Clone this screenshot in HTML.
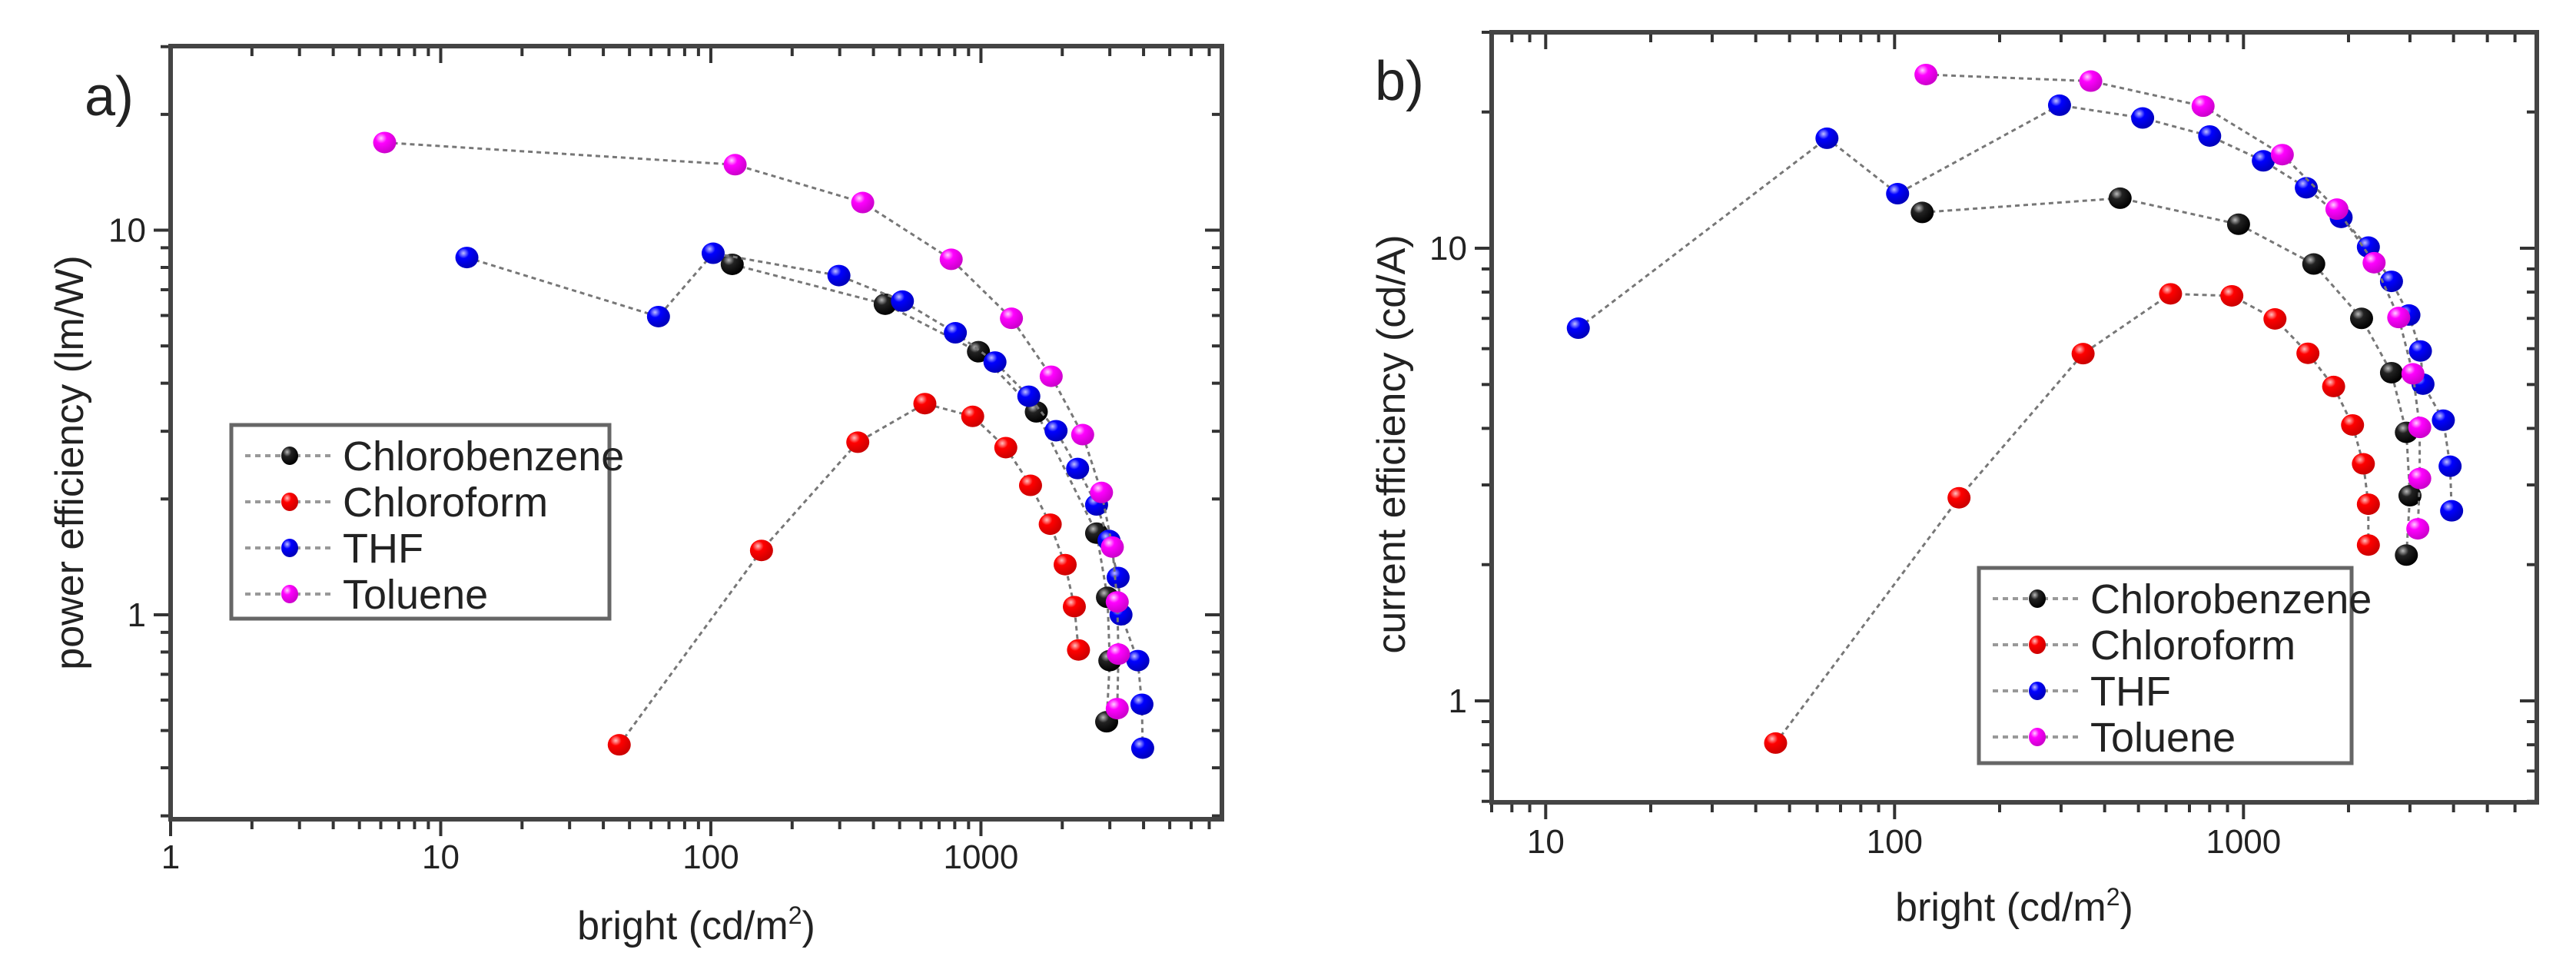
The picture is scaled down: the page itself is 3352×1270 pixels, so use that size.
<!DOCTYPE html>
<html><head><meta charset="utf-8">
<style>
html,body{margin:0;padding:0;background:#fff;}
svg{display:block;}
text{font-family:"Liberation Sans",sans-serif;fill:#222;}
</style></head>
<body>
<svg id="fig" width="3352" height="1270" viewBox="0 0 3352 1270" xmlns="http://www.w3.org/2000/svg">
<defs>
<radialGradient id="g-black" cx="0.35" cy="0.3" r="0.7"><stop offset="0" stop-color="#bbb"/><stop offset="0.35" stop-color="#222"/><stop offset="1" stop-color="#000"/></radialGradient>
<radialGradient id="g-red" cx="0.35" cy="0.3" r="0.7"><stop offset="0" stop-color="#ffc0c0"/><stop offset="0.35" stop-color="#f00"/><stop offset="1" stop-color="#c00"/></radialGradient>
<radialGradient id="g-blue" cx="0.35" cy="0.3" r="0.7"><stop offset="0" stop-color="#c0c0ff"/><stop offset="0.35" stop-color="#00f"/><stop offset="1" stop-color="#00b"/></radialGradient>
<radialGradient id="g-magenta" cx="0.35" cy="0.3" r="0.7"><stop offset="0" stop-color="#ffd0ff"/><stop offset="0.35" stop-color="#f0f"/><stop offset="1" stop-color="#c0c"/></radialGradient>
</defs>
</svg>
<script>
// ---------- Data: panel a (power efficiency, lm/W) ----------
const seriesNames = ["Chlorobenzene","Chloroform","THF","Toluene"];
const seriesColors = ["black","red","blue","magenta"];

const aChlorobenzeneX = [120,442,979,1603,2680,2940,3000,2920];
const aChlorobenzeneY = [8.15,6.42,4.83,3.37,1.63,1.11,0.76,0.527];
const aChloroformX = [45.8,154,350,620,932,1236,1526,1805,2050,2217,2297];
const aChloroformY = [0.459,1.47,2.81,3.54,3.28,2.72,2.17,1.72,1.35,1.05,0.81];
const aTHFX = [12.5,64,102,298,512,804,1127,1504,1897,2280,2680,2980,3220,3300,3810,3945,3970];
const aTHFY = [8.49,5.96,8.71,7.62,6.54,5.41,4.54,3.70,3.01,2.40,1.93,1.56,1.25,1.0,0.76,0.585,0.45];
const aTolueneX = [6.2,123,365,776,1297,1820,2380,2795,3065,3196,3230,3196];
const aTolueneY = [16.9,14.8,11.8,8.4,5.9,4.17,2.94,2.08,1.50,1.08,0.79,0.57];

// ---------- Data: panel b (current efficiency, cd/A) ----------
const bChlorobenzeneX = [120,443,968,1590,2180,2656,2930,3000,2930];
const bChlorobenzeneY = [12.0,12.9,11.3,9.23,7.0,5.31,3.92,2.84,2.10];
const bChloroformX = [45.6,153,347,618,926,1231,1530,1813,2054,2206,2280,2280];
const bChloroformY = [0.807,2.81,5.85,7.93,7.85,6.98,5.86,4.95,4.07,3.34,2.72,2.21];
const bTHFX = [12.4,64,102,297,514,800,1140,1514,1905,2280,2656,2980,3215,3270,3740,3910,3950];
const bTHFY = [6.66,17.5,13.2,20.7,19.4,17.7,15.6,13.6,11.7,10.06,8.45,7.12,5.93,5.01,4.17,3.30,2.63];
const bTolueneX = [123,365,766,1292,1853,2368,2786,3060,3200,3200,3160];
const bTolueneY = [24.2,23.4,20.6,16.1,12.2,9.29,7.03,5.28,4.02,3.10,2.40];

const aXTicks = [1,10,100,1000];
const aXTickLabels = ["1","10","100","1000"];
const aYTicks = [1,10];
const aYTickLabels = ["1","10"];
const bXTicks = [10,100,1000];
const bXTickLabels = ["10","100","1000"];
const bYTicks = [1,10];
const bYTickLabels = ["1","10"];

const NS = "http://www.w3.org/2000/svg";
const svg = document.getElementById('fig');
function mk(tag, attrs, parent){
  const e = document.createElementNS(NS, tag);
  for (const k in attrs) e.setAttribute(k, attrs[k]);
  (parent||svg).appendChild(e);
  return e;
}
function logScale(d0,d1,r0,r1){
  const l0=Math.log10(d0), l1=Math.log10(d1);
  return v => r0 + (Math.log10(v)-l0)/(l1-l0)*(r1-r0);
}

function panel(cfg){
  const g = mk('g', {});
  
  
  const X = logScale(cfg.xmin,cfg.xmax,cfg.left,cfg.right);
  const Y = logScale(cfg.ymin,cfg.ymax,cfg.bottom,cfg.top);

  const tg = mk('g', {stroke:'#333','stroke-width':4}, g);
  
  
  for (let d=-1; d<5; d++){
    for (let m=1; m<10; m++){
      const v = m*Math.pow(10,d);
      if (v>=cfg.xmin && v<=cfg.xmax){
        const x = X(v), L = m===1?22:13;
        mk('line',{x1:x,x2:x,y1:cfg.bottom,y2:cfg.bottom+L},tg);
        mk('line',{x1:x,x2:x,y1:cfg.top,y2:cfg.top+L},tg);
      }
      if (v>=cfg.ymin && v<=cfg.ymax){
        const y = Y(v), L = m===1?22:13;
        mk('line',{x1:cfg.left,x2:cfg.left-L,y1:y,y2:y},tg);
        mk('line',{x1:cfg.right,x2:cfg.right-L,y1:y,y2:y},tg);
      }
    }
  }
  const fr = mk('rect',{x:cfg.left,y:cfg.top,width:cfg.right-cfg.left,height:cfg.bottom-cfg.top,fill:'none',stroke:'#444','stroke-width':6},g);
  
  

  cfg.xTicks.forEach((v,i)=>{
    const t = mk('text',{x:X(v),y:cfg.xLabelY,'font-size':44,'text-anchor':'middle'},g);
    t.textContent = cfg.xTickLabels[i];
    
    
  });
  cfg.yTicks.forEach((v,i)=>{
    const t = mk('text',{x:cfg.left-32,y:Y(v)+15,'font-size':44,'text-anchor':'end'},g);
    t.textContent = cfg.yTickLabels[i];
    
    
  });

  const xt = mk('text',{x:cfg.xTitleX,y:cfg.xTitleY,'font-size':52,'text-anchor':'middle'},g);
  
  
  xt.appendChild(document.createTextNode('bright (cd/m'));
  const sup = mk('tspan',{dy:-20,'font-size':32},xt); sup.textContent='2';
  const cl = mk('tspan',{dy:20},xt); cl.textContent=')';
  const yt = mk('text',{x:0,y:0,'font-size':52,'text-anchor':'middle',transform:`translate(${cfg.yTitleX},${cfg.yTitleY}) rotate(-90)`},g);
  yt.textContent = cfg.yTitle;
  
  

  const pl = mk('text',{x:cfg.labelX,y:cfg.labelY,'font-size':72,'text-anchor':'middle'},g);
  pl.textContent = cfg.label;
  
  

  cfg.series.forEach((s,si)=>{
    const sg = mk('g',{},g);
    
    
    const pts = s[0].map((xv,i)=>X(xv).toFixed(1)+','+Y(s[1][i]).toFixed(1)).join(' ');
    const ln = mk('polyline',{points:pts,fill:'none',stroke:'#777','stroke-width':3,'stroke-dasharray':'6,5'},sg);
    
    
    s[0].forEach((xv,i)=>{
      const c = mk('ellipse',{cx:X(xv),cy:Y(s[1][i]),rx:15,ry:14,fill:`url(#g-${seriesColors[si]})`},sg);
      
      
    });
  });

  const lg = mk('g',{},g);
  
  
  const L = cfg.legend;
  mk('rect',{x:L.x,y:L.y,width:L.w,height:L.h,fill:'#fff',stroke:'#666','stroke-width':5},lg);
  seriesNames.forEach((n,i)=>{
    const yy = L.y + 40 + i*60;
    const e = mk('g',{},lg);
    
    
    mk('line',{x1:L.x+18,x2:L.x+132,y1:yy,y2:yy,stroke:'#999','stroke-width':4,'stroke-dasharray':'7,6'},e);
    mk('ellipse',{cx:L.x+76,cy:yy,rx:11,ry:12,fill:`url(#g-${seriesColors[i]})`},e);
    const t = mk('text',{x:L.x+145,y:yy+19,'font-size':54},e);
    t.textContent = n;
  });
}

panel({name:'panel-a-power-efficiency', left:222,right:1590,top:60,bottom:1066,
  xmin:1,xmax:7800,ymin:0.294,ymax:30.1,
  xTicks:aXTicks,xTickLabels:aXTickLabels,yTicks:aYTicks,yTickLabels:aYTickLabels,
  xLabelY:1130,xTitleX:906,xTitleY:1222,yTitleX:108,yTitleY:602,yTitle:'power efficiency (lm/W)',
  label:'a)',labelX:142,labelY:150,
  series:[[aChlorobenzeneX,aChlorobenzeneY],[aChloroformX,aChloroformY],[aTHFX,aTHFY],[aTolueneX,aTolueneY]],
  legend:{x:301,y:553,w:492,h:252}});

panel({name:'panel-b-current-efficiency', left:1941,right:3301,top:42,bottom:1044,
  xmin:7,xmax:6930,ymin:0.597,ymax:30,
  xTicks:bXTicks,xTickLabels:bXTickLabels,yTicks:bYTicks,yTickLabels:bYTickLabels,
  xLabelY:1110,xTitleX:2621,xTitleY:1198,yTitleX:1828,yTitleY:578,yTitle:'current efficiency (cd/A)',
  label:'b)',labelX:1821,labelY:130,
  series:[[bChlorobenzeneX,bChlorobenzeneY],[bChloroformX,bChloroformY],[bTHFX,bTHFY],[bTolueneX,bTolueneY]],
  legend:{x:2575,y:739,w:485,h:254}});
</script>
</body></html>
